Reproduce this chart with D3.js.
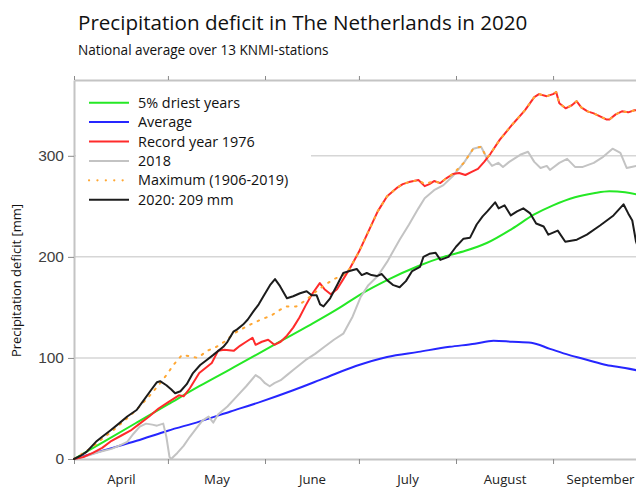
<!DOCTYPE html>
<html>
<head>
<meta charset="utf-8">
<script src="https://cdn.jsdelivr.net/npm/d3@7/dist/d3.min.js"></script>
<style>
  html, body { margin: 0; padding: 0; background: #fff; }
  svg { display: block; }
</style>
</head>
<body>
<svg id="chart" width="636" height="490"></svg>
<script>
// Days are counted from 1 April; values are the cumulative deficit in mm.
const monthStarts = [0, 30, 61, 91, 122, 153, 183];
const monthNames = ["April", "May", "June", "July", "August", "September"];
const yTicks = [0, 100, 200, 300];

const seriesNames = ["5% driest years", "Average", "Record year 1976", "2018", "Maximum (1906-2019)", "2020: 209 mm"];

const driest5 = [[0,0],[10,18],[20,36],[30,54],[40,72],[50,89],[57,101],[65,115],[75,132],[85,150],[91,162],[100,177],[110,191],[118,200],[125,206],[132,214],[140,228],[147,242],[153,251],[160,259],[166,263],[171,265],[176,264],[181,261]];

const average = [[0,0],[10,9],[20,18],[30,28],[40,37],[50,47],[60,57],[70,68],[80,80],[90,92],[100,101],[110,106],[120,111],[128,114],[134,117],[140,116],[146,115],[152,109],[158,103],[164,98],[170,93],[176,90],[181,87]];

const year1976 = [[0,0],[3,2],[6,6],[9,11],[12,18],[15,23],[18,28],[21,35],[24,42],[27,50],[30,56],[32,60],[33.5,63],[35,62],[37,70],[40,85],[42,90],[44,95],[46,107],[48,108],[51,107],[53,112],[55,116],[57,120],[58,113],[60,116],[62,118],[64,113],[66,116],[68,122],[70,130],[72,140],[74,152],[76,163],[78.5,174],[80,168],[82,163],[84,168],[86,178],[88,188],[91,205],[94,225],[97,245],[100,260],[103,268],[105,272],[107,274],[110,276],[112,270],[113.5,272],[115,275],[117,273],[119,278],[121,282],[123,283],[125,281],[127,284],[129,287],[131,294],[133,302],[136,316],[140,331],[144,345],[147,358],[148.5,361],[151,359],[153,361],[154,363],[155,352],[157,347],[159,350],[160.5,354],[162,348],[164,344],[166,342],[168,339],[170,336],[171,336],[173,341],[175,344],[177,343],[179,345],[181,345]];

const year2018 = [[0,0],[4,3],[8,7],[12,10],[15,14],[17,17],[19,25],[21,32],[23,35],[25,34],[26.5,33],[28.5,35],[29.5,22],[30.5,2],[31,0],[33,6],[35,13],[37,22],[39,30],[41,38],[43,42],[44.5,36],[46,44],[49,52],[52,62],[55,72],[58,83],[59.5,80],[61,75],[62.5,72],[64,75],[66,78],[68,83],[70,88],[72,93],[74,98],[77,104],[80,111],[83,118],[86,124],[89,141],[91.5,160],[94,172],[97,181],[100,195],[104,217],[107,232],[110,248],[112,258],[115,266],[118,271],[121,280],[124.5,293],[127.5,307],[130,309],[131,303],[132,296],[133.5,290],[135.5,293],[137,289],[139,294],[142.5,301],[145,304],[147,294],[149,288],[151,290],[152,286],[155,293],[157.5,297],[160,289],[162.5,289],[166,293],[169,299],[172,307],[174.5,303],[176.5,288],[178,289],[181,291]];

const maximum = [[0,0],[3,6],[6,12],[9,20],[12,27],[15,35],[18,43],[21,52],[24,62],[27,73],[29.5,83],[32,94],[34.5,103],[36.5,102],[39.5,100],[42.5,107],[45.5,111],[48,116],[51,124],[55,131],[59,137],[63,142],[66,148],[68,151],[71,151],[74,157],[77,165],[80,172],[83,178],[86,182],[88,188],[91,205],[94,225],[97,245],[100,260],[103,268],[105,272],[107,274],[110,276],[112,272],[115,275],[117,273],[119,278],[121,282],[124.5,293],[127.5,307],[130,309],[131,303],[132,298],[133,302],[136,316],[140,331],[144,345],[147,358],[148.5,361],[151,359],[153,361],[154,363],[155,352],[157,347],[159,350],[160.5,354],[162,348],[164,344],[166,342],[168,339],[170,336],[171,336],[173,341],[175,344],[177,343],[179,345],[181,345]];

const year2020 = [[0,0],[2,3],[4,7],[7,17],[9,22],[11.5,28],[14.7,36],[17,42],[20,48.5],[22,57],[24.8,69],[26.5,76],[27.5,77],[29.5,73],[31,69],[32.3,65],[34,67],[36,74],[38,85],[40.3,93],[42.4,98],[44.5,103],[47.7,111],[49,116],[50.9,126],[52,128],[54,133],[55.5,138],[57.3,146],[59,153],[60.5,161],[62.6,172],[64.2,178],[65.8,171],[68,159],[70,161],[72.2,164],[74.3,166],[75.9,162],[77.5,162],[78.6,153],[79.7,151],[81.8,159],[84,172],[86,184],[88,186],[90.3,188],[91.9,182],[93.5,184],[95,182],[96.7,181],[98.3,183],[100,177],[102,172],[104,170],[106,176],[108,186],[110.5,190],[111.6,200],[113.5,203],[115.5,204],[117,197],[119.6,200],[122,210],[124.4,218],[126.5,219],[128.6,232],[130.5,240],[132,245],[134.5,254],[135.6,248],[137.5,251],[139.5,241],[141.5,245],[143.5,248],[145.7,243],[147.6,233],[150,230],[151.5,222],[154.5,226],[156.9,215],[160.6,217],[163.8,222],[168,231],[172.3,241],[175.5,252],[177,243],[178.3,236],[179.5,215],[180.2,209]];

const svg = d3.select("#chart");
const fontUI = "'Open Sans', 'Noto Sans', sans-serif";

const x = d3.scaleLinear().domain([0, 183]).range([74, 647]);
const y = d3.scaleLinear().domain([0, 375]).range([459, 80]);

// Titles
svg.append("text").attr("x", 78).attr("y", 30)
  .style("font-family", fontUI).style("font-size", "20.6px").attr("fill", "#111")
  .text("Precipitation deficit in The Netherlands in 2020");
svg.append("text").attr("x", 78).attr("y", 55)
  .style("font-family", fontUI).style("font-size", "13.6px").attr("fill", "#111")
  .text("National average over 13 KNMI-stations");

// Horizontal gridlines
svg.append("g").selectAll("line").data(yTicks.filter(v => v > 0)).join("line")
  .attr("x1", x(0)).attr("x2", 636)
  .attr("y1", d => y(d)).attr("y2", d => y(d))
  .attr("stroke", "#d6d6d6").attr("stroke-width", 1.5);

// Axes
function styleAxis(g) {
  g.select(".domain").attr("stroke", "#c4c4c4").attr("stroke-width", 2);
  g.selectAll(".tick line").attr("stroke", "#8a8a8a").attr("stroke-width", 1);
}
svg.append("g").attr("transform", `translate(0,${y(0)})`)
  .call(d3.axisBottom(x).tickValues(monthStarts).tickSize(5).tickSizeOuter(0).tickFormat(""))
  .call(styleAxis);
svg.append("g").attr("transform", `translate(0,${y(375)})`)
  .call(d3.axisTop(x).tickValues(monthStarts).tickSize(4).tickSizeOuter(0).tickFormat(""))
  .call(styleAxis);
const yAxis = svg.append("g").attr("transform", `translate(${x(0)},0)`)
  .call(d3.axisLeft(y).tickValues(yTicks).tickSize(6).tickSizeOuter(0).tickPadding(4))
  .call(styleAxis);
yAxis.selectAll(".tick text")
  .style("font-family", "'Liberation Sans', Arial, sans-serif").style("font-size", "15.5px").attr("fill", "#404040");

// Month labels centred in each month band
const mids = monthNames.map((m, i) => (monthStarts[i] + monthStarts[i + 1]) / 2);
const monthAxis = svg.append("g").attr("transform", `translate(0,${y(0)})`)
  .call(d3.axisBottom(x).tickValues(mids).tickSize(0).tickPadding(16)
    .tickFormat((d, i) => monthNames[i]));
monthAxis.select(".domain").remove();
monthAxis.selectAll(".tick text")
  .style("font-family", fontUI).style("font-size", "13.2px").attr("fill", "#222");

svg.append("text")
  .attr("transform", `translate(21,${(y(0) + y(375)) / 2 + 11}) rotate(-90)`)
  .attr("text-anchor", "middle")
  .style("font-family", fontUI).style("font-size", "13px").attr("fill", "#111")
  .text("Precipitation deficit [mm]");

// Data lines
const plot = svg.append("g");
const lineSharp = d3.line().x(d => x(d[0])).y(d => y(d[1]));
const lineSmooth = d3.line().x(d => x(d[0])).y(d => y(d[1])).curve(d3.curveMonotoneX);

const styles = [
  { data: average, gen: lineSmooth, color: "#2626ff", width: 2, dash: null },
  { data: driest5, gen: lineSmooth, color: "#25e825", width: 2, dash: null },
  { data: year2018, gen: lineSharp, color: "#c3c3c3", width: 2, dash: null },
  { data: year1976, gen: lineSharp, color: "#ff2b2b", width: 2, dash: null },
  { data: maximum, gen: lineSharp, color: "#ffa733", width: 2, dash: "1.6,6.6" },
  { data: year2020, gen: lineSharp, color: "#1c1c1c", width: 2, dash: null }
];
styles.forEach(s => {
  plot.append("path").datum(s.data)
    .attr("d", s.gen)
    .attr("fill", "none")
    .attr("stroke", s.color)
    .attr("stroke-width", s.width)
    .attr("stroke-linejoin", "round")
    .attr("stroke-linecap", "round")
    .attr("stroke-dasharray", s.dash);
});

// Legend
const legendColors = ["#25e825", "#2626ff", "#ff2b2b", "#c3c3c3", "#ffa733", "#1c1c1c"];
const legend = svg.append("g");
legend.append("rect").attr("x", 76).attr("y", 83).attr("width", 235).attr("height", 128).attr("fill", "#fff");
const rows = legend.selectAll("g.row").data(seriesNames).join("g")
  .attr("transform", (d, i) => `translate(0,${102.7 + i * 19.4})`);
rows.append("line").attr("x1", 89).attr("x2", 129).attr("y1", 0).attr("y2", 0)
  .attr("stroke", (d, i) => legendColors[i])
  .attr("stroke-linecap", (d, i) => i === 4 ? "round" : "butt")
  .attr("stroke-dasharray", (d, i) => i === 4 ? "0.1,8.3" : null)
  .attr("stroke-width", (d, i) => i === 4 ? 2.2 : 2);
rows.append("text").attr("x", 138).attr("y", 0).attr("dy", "0.35em")
  .style("font-family", fontUI).style("font-size", "14.4px").attr("fill", "#111")
  .text(d => d);
</script>
</body>
</html>
